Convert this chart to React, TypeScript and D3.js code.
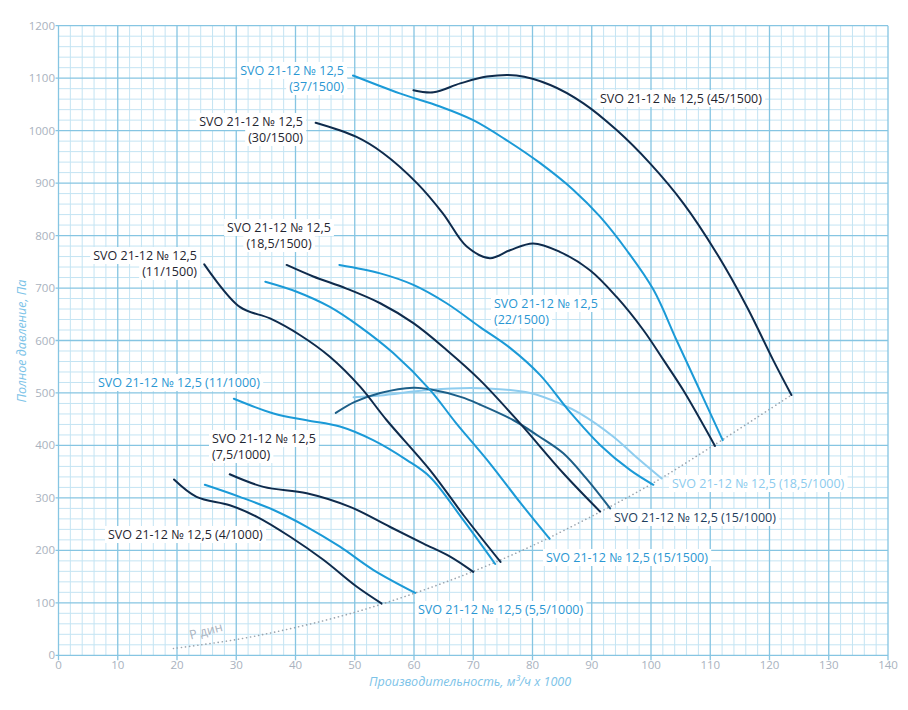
import React, { useRef, useEffect } from 'react';
import * as d3 from 'd3';

type P = [number, number];

const xTickValues = [0, 10, 20, 30, 40, 50, 60, 70, 80, 90, 100, 110, 120, 130, 140];
const yTickValues = [0, 100, 200, 300, 400, 500, 600, 700, 800, 900, 1000, 1100, 1200];

const s4_1000: P[] = [[19.5, 335], [23.3, 302], [28.9, 286], [33.5, 264], [39.1, 226], [44.7, 182], [50.3, 131], [54.5, 99]];
const s55_1000: P[] = [[24.7, 325], [30.6, 302], [36.3, 277], [41.9, 245], [47.5, 207], [53.1, 163], [60.2, 119]];
const s75_1000: P[] = [[28.9, 345], [34.6, 321], [41.9, 309], [49.2, 283], [55.9, 245], [61.6, 213], [66.1, 188], [70.0, 159]];
const s11_1000: P[] = [[29.6, 489], [36.3, 461], [41.9, 448], [47.5, 436], [53.1, 410], [58.8, 372], [62.7, 340], [68.3, 258], [73.7, 174]];
const s15_1000: P[] = [[46.8, 462], [50, 483], [54.3, 500], [59.9, 510], [62.7, 507], [68, 492], [71.1, 478], [76.8, 448], [81, 418], [85.2, 385], [89, 338], [93.1, 280]];
const s185_1000: P[] = [[49.8, 492], [54.3, 495], [62.7, 506], [71.1, 509], [79.6, 500], [85, 478], [88, 461], [93.6, 417], [97.5, 378], [101.8, 337]];
const s11_1500: P[] = [[24.6, 745], [30.6, 664], [35.7, 642], [40.8, 610], [45.8, 569], [50.9, 512], [55.4, 448], [62.7, 353], [68.5, 265], [74.6, 178]];
const s15_1500: P[] = [[34.9, 712], [40.2, 693], [45.8, 664], [50.9, 626], [56.5, 576], [62.7, 506], [67, 444], [72.8, 366], [78, 290], [82.9, 222]];
const s185_1500: P[] = [[38.5, 744], [43.0, 722], [48.6, 699], [54.3, 671], [59.9, 633], [65.5, 582], [71.1, 525], [77.9, 442], [85.2, 347], [91.4, 274]];
const s22_1500: P[] = [[47.4, 744], [54.3, 728], [59.9, 706], [65.5, 671], [71.1, 626], [76.2, 586], [81.3, 534], [86.3, 464], [91.4, 401], [96.5, 353], [100.4, 325]];
const s30_1500: P[] = [[43.4, 1015], [50.3, 988], [54.8, 957], [60.5, 900], [64.9, 842], [68.9, 779], [72.8, 757], [76.2, 772], [80.1, 785], [84.6, 769], [89.7, 734], [94.2, 683], [98.7, 620], [102.1, 563], [105.4, 506], [110.8, 399]];
const s37_1500: P[] = [[49.7, 1105], [57.6, 1071], [64.4, 1046], [70.0, 1020], [75.6, 982], [81.3, 938], [86.9, 887], [91.4, 836], [95.9, 772], [100.4, 697], [104.3, 601], [107.7, 518], [112.1, 410]];
const s45_1500: P[] = [[59.9, 1077], [63.3, 1073], [67.8, 1090], [72.3, 1103], [77.3, 1105], [83.0, 1087], [88.6, 1052], [94.2, 1001], [99.8, 938], [105.5, 861], [111.1, 766], [116.2, 664], [120.6, 563], [123.7, 496]];
const pDyn: P[] = [[19.4, 13], [30, 30], [40, 53], [50, 82], [60, 118], [70, 160], [80, 209], [90, 265], [100, 326], [110, 396], [123.7, 496]];

const NAVY = '#0f2b4c';
const BLUE = '#1b9ad7';
const MID = '#1d5f88';
const LIGHT = '#8fcdef';

const seriesList = [
  { data: s185_1000, color: LIGHT },
  { data: s15_1000, color: MID },
  { data: s4_1000, color: NAVY },
  { data: s55_1000, color: BLUE },
  { data: s75_1000, color: NAVY },
  { data: s11_1000, color: BLUE },
  { data: s11_1500, color: NAVY },
  { data: s15_1500, color: BLUE },
  { data: s185_1500, color: NAVY },
  { data: s22_1500, color: BLUE },
  { data: s30_1500, color: NAVY },
  { data: s37_1500, color: BLUE },
  { data: s45_1500, color: NAVY },
];

const labelTexts = [
  ['SVO 21-12 № 12,5', '(37/1500)'],
  ['SVO 21-12 № 12,5', '(30/1500)'],
  ['SVO 21-12 № 12,5 (45/1500)'],
  ['SVO 21-12 № 12,5', '(18,5/1500)'],
  ['SVO 21-12 № 12,5', '(11/1500)'],
  ['SVO 21-12 № 12,5', '(22/1500)'],
  ['SVO 21-12 № 12,5 (11/1000)'],
  ['SVO 21-12 № 12,5', '(7,5/1000)'],
  ['SVO 21-12 № 12,5 (4/1000)'],
  ['SVO 21-12 № 12,5 (5,5/1000)'],
  ['SVO 21-12 № 12,5 (15/1500)'],
  ['SVO 21-12 № 12,5 (15/1000)'],
  ['SVO 21-12 № 12,5 (18,5/1000)'],
];

// layout of labels (pixel anchors)
const labelLayout = [
  { x: 344, y: 75, anchor: 'end', color: '#2a97d3' },
  { x: 303, y: 126, anchor: 'end', color: '#1f2530' },
  { x: 600, y: 103, anchor: 'start', color: '#1f2530' },
  { x: 279, y: 232, anchor: 'middle', color: '#1f2530' },
  { x: 197, y: 260, anchor: 'end', color: '#1f2530' },
  { x: 494, y: 308, anchor: 'start', color: '#2a97d3' },
  { x: 98, y: 387, anchor: 'start', color: '#2a97d3' },
  { x: 212, y: 443, anchor: 'start', color: '#1f2530' },
  { x: 108, y: 539, anchor: 'start', color: '#1f2530' },
  { x: 418, y: 614, anchor: 'start', color: '#2a97d3' },
  { x: 546, y: 562, anchor: 'start', color: '#2a97d3' },
  { x: 614, y: 522, anchor: 'start', color: '#1d3d5c' },
  { x: 672, y: 488, anchor: 'start', color: '#8ccbee' },
];

const FONT = "'Open Sans', 'DejaVu Sans', sans-serif";

export default function App() {
  const ref = useRef<SVGSVGElement>(null);
  useEffect(() => {
    const svg = d3.select(ref.current!);
    svg.selectAll('*').remove();
    const x = d3.scaleLinear().domain([0, 140]).range([58.5, 888]);
    const y = d3.scaleLinear().domain([0, 1200]).range([655.3, 25.7]);

    const grid = svg.append('g');
    const minorX = d3.range(0, 141, 2).filter((v) => v % 10 !== 0);
    const minorY = d3.range(0, 1201, 20).filter((v) => v % 100 !== 0);
    grid.selectAll('.mx').data(minorX).enter().append('line')
      .attr('x1', (d) => x(d)).attr('x2', (d) => x(d)).attr('y1', y(0)).attr('y2', y(1200))
      .attr('stroke', '#c4e4f3').attr('stroke-width', 1);
    grid.selectAll('.my').data(minorY).enter().append('line')
      .attr('x1', x(0)).attr('x2', x(140)).attr('y1', (d) => y(d)).attr('y2', (d) => y(d))
      .attr('stroke', '#c4e4f3').attr('stroke-width', 1);
    grid.selectAll('.Mx').data(xTickValues).enter().append('line')
      .attr('x1', (d) => x(d)).attr('x2', (d) => x(d)).attr('y1', y(0) + 5).attr('y2', y(1200))
      .attr('stroke', '#86c5e2').attr('stroke-width', 1.3);
    grid.selectAll('.My').data(yTickValues).enter().append('line')
      .attr('x1', x(0) - 3).attr('x2', x(140)).attr('y1', (d) => y(d)).attr('y2', (d) => y(d))
      .attr('stroke', '#86c5e2').attr('stroke-width', 1.3);

    // tick labels
    svg.append('g').selectAll('text').data(xTickValues).enter().append('text')
      .attr('x', (d) => x(d)).attr('y', 668.5).attr('text-anchor', 'middle')
      .attr('font-family', FONT).attr('font-size', 11.5).attr('fill', '#a9b2be')
      .text((d) => String(d));
    svg.append('g').selectAll('text').data(yTickValues).enter().append('text')
      .attr('x', 55).attr('y', (d) => y(d) + 4).attr('text-anchor', 'end')
      .attr('font-family', FONT).attr('font-size', 11.5).attr('fill', '#a9b2be')
      .text((d) => String(d));

    // axis titles
    svg.append('text').attr('x', 470).attr('y', 686).attr('text-anchor', 'middle')
      .attr('font-family', FONT).attr('font-size', 12.5).attr('font-style', 'italic')
      .attr('fill', '#7cc3e8').text('Производительность, м³/ч x 1000');
    svg.append('text').attr('transform', 'translate(26,341) rotate(-90)').attr('text-anchor', 'middle')
      .attr('font-family', FONT).attr('font-size', 12.5).attr('font-style', 'italic')
      .attr('fill', '#7cc3e8').text('Полное давление, Па');

    // dynamic pressure
    const line = d3.line<P>().x((d) => x(d[0])).y((d) => y(d[1])).curve(d3.curveCatmullRom.alpha(0.5));
    svg.append('path').attr('d', line(pDyn)!).attr('fill', 'none').attr('stroke', '#9aa4ae')
      .attr('stroke-width', 1.6).attr('stroke-dasharray', '0.1 4').attr('stroke-linecap', 'round');
    const pLabelPos: P = [22.3, 30];
    svg.append('text').attr('transform', `translate(${x(pLabelPos[0])},${y(pLabelPos[1])}) rotate(-15)`)
      .attr('font-family', FONT).attr('font-size', 12.5).attr('fill', '#a9b2be').text('Р дин');

    // series
    seriesList.forEach((s) => {
      svg.append('path').attr('d', line(s.data)!).attr('fill', 'none').attr('stroke', s.color)
        .attr('stroke-width', 2).attr('stroke-linecap', 'round');
    });

    // labels
    labelTexts.forEach((lines, i) => {
      const L = labelLayout[i];
      const g = svg.append('g');
      const bg = g.append('g');
      lines.forEach((t, j) => {
        const tx = g.append('text').attr('x', L.x).attr('y', L.y + j * 16)
          .attr('text-anchor', L.anchor).attr('font-family', FONT).attr('font-size', 12.5)
          .attr('fill', L.color).text(t);
        const bb = (tx.node() as SVGTextElement).getBBox();
        bg.append('rect').attr('x', bb.x - 3).attr('y', bb.y).attr('width', bb.width + 6)
          .attr('height', bb.height).attr('fill', '#fff');
      });
    });
  }, []);
  return (
    <svg ref={ref} width={908} height={710} style={{ position: 'absolute', left: 0, top: 0, background: '#fff' }} />
  );
}
